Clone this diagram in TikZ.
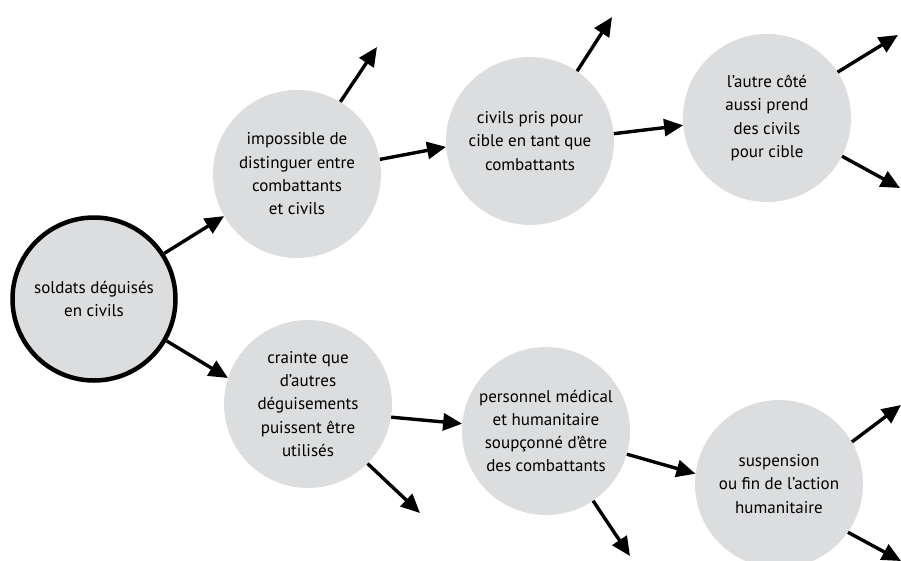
\documentclass[tikz,border=0pt]{standalone}
\usepackage{fontspec}
\setmainfont{PT Sans}
\usetikzlibrary{arrows.meta}
\definecolor{bubblefill}{RGB}{220,221,222}

\begin{document}
\begin{tikzpicture}[x=1pt, y=-1pt,
    bubble/.style={circle, fill=bubblefill, minimum size=168pt, inner sep=0pt,
        align=center, font=\fontsize{17}{23.3}\selectfont},
    arr/.style={line width=3.4pt, -{Triangle[length=19pt,width=17pt]}}]
    \useasboundingbox (0,0) rectangle (901,560);
    % Root
    \node[bubble, draw, line width=4.5pt, minimum size=163pt] (soldats) at (94,299) {soldats déguisés\\en civils};
    % Upper branch
    \node[bubble] (impossible) at (297,174) {impossible de\\distinguer entre\\combattants\\et civils};
    \node[bubble] (cible) at (530,141) {civils pris pour\\cible en tant que\\combattants};
    \node[bubble] (autre) at (767,118) {l’autre côté\\aussi prend\\des civils\\pour cible};
    % Lower branch
    \node[bubble] (crainte) at (308,404) {crainte que\\d’autres\\déguisements\\puissent être\\utilisés};
    \node[bubble] (personnel) at (546,431) {personnel médical\\et humanitaire\\soupçonné d’être\\des combattants};
    \node[bubble] (suspension) at (779,484) {suspension\\ou fin de l’action\\humanitaire};
    % Loose ends
    \coordinate (imp out) at (377,47);
    \coordinate (cib out) at (612,17);
    \coordinate (aut up) at (898,35);
    \coordinate (aut down) at (900,188);
    \coordinate (cra out) at (420,513);
    \coordinate (per out) at (630,556);
    \coordinate (sus up) at (901,405);
    \coordinate (sus down) at (901,561);
    % Arrows
    \draw[arr] (soldats.33) -- (impossible.210);
    \draw[arr] (impossible.10) -- (cible.184);
    \draw[arr] (cible.5) -- (autre.185);
    \draw[arr] (soldats.-30) -- (crainte.162);
    \draw[arr] (crainte.-9) -- (personnel.175);
    \draw[arr] (personnel.-16) -- (suspension.173);
    \draw[arr] (impossible.59) -- (imp out);
    \draw[arr] (cible.56) -- (cib out);
    \draw[arr] (autre.33) -- (aut up);
    \draw[arr] (autre.-27) -- (aut down);
    \draw[arr] (crainte.-45) -- (cra out);
    \draw[arr] (personnel.-56) -- (per out);
    \draw[arr] (suspension.30) -- (sus up);
    \draw[arr] (suspension.-35) -- (sus down);
\end{tikzpicture}
\end{document}
